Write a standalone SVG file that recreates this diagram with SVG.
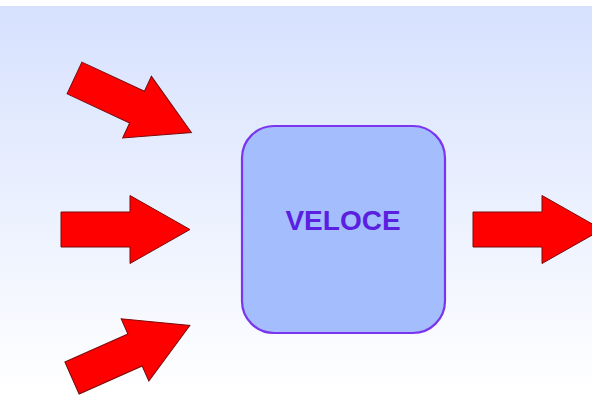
<svg xmlns="http://www.w3.org/2000/svg" width="592" height="395" viewBox="0 0 592 395">
<defs>
<linearGradient id="bg" x1="0" y1="0" x2="0" y2="1">
<stop offset="0" stop-color="#d6e1fe"/>
<stop offset="1" stop-color="#ffffff"/>
</linearGradient>
<path id="arr" d="M0,-17.5 L69,-17.5 L69,-34 L129,0 L69,34 L69,17.5 L0,17.5 Z"/>
</defs>
<style>
.a{fill:#ff0000;stroke:#7a0a0a;stroke-width:1;stroke-linejoin:miter}
.box{fill:#a4bdfc;stroke:#7a35ee;stroke-width:2.2}
.t{font-family:"Liberation Sans",Arial,sans-serif;font-weight:bold;font-size:28px;fill:#5a1fe0;text-anchor:middle}
</style>
<rect x="0" y="0" width="592" height="395" fill="#ffffff"/>
<rect x="0" y="6" width="592" height="389" fill="url(#bg)"/>
<g id="connectors">
<use href="#arr" class="a" transform="translate(74.5,78) rotate(25)"/>
<use href="#arr" class="a" transform="translate(61,229.5)"/>
<use href="#arr" class="a" transform="translate(72,378) rotate(-24)"/>
<use href="#arr" class="a" transform="translate(473,229.5)"/>
</g>
<g id="veloce">
<rect class="box" x="242" y="126" width="203" height="207" rx="32" ry="32"/>
<text class="t" x="343" y="230">VELOCE</text>
</g>
</svg>
